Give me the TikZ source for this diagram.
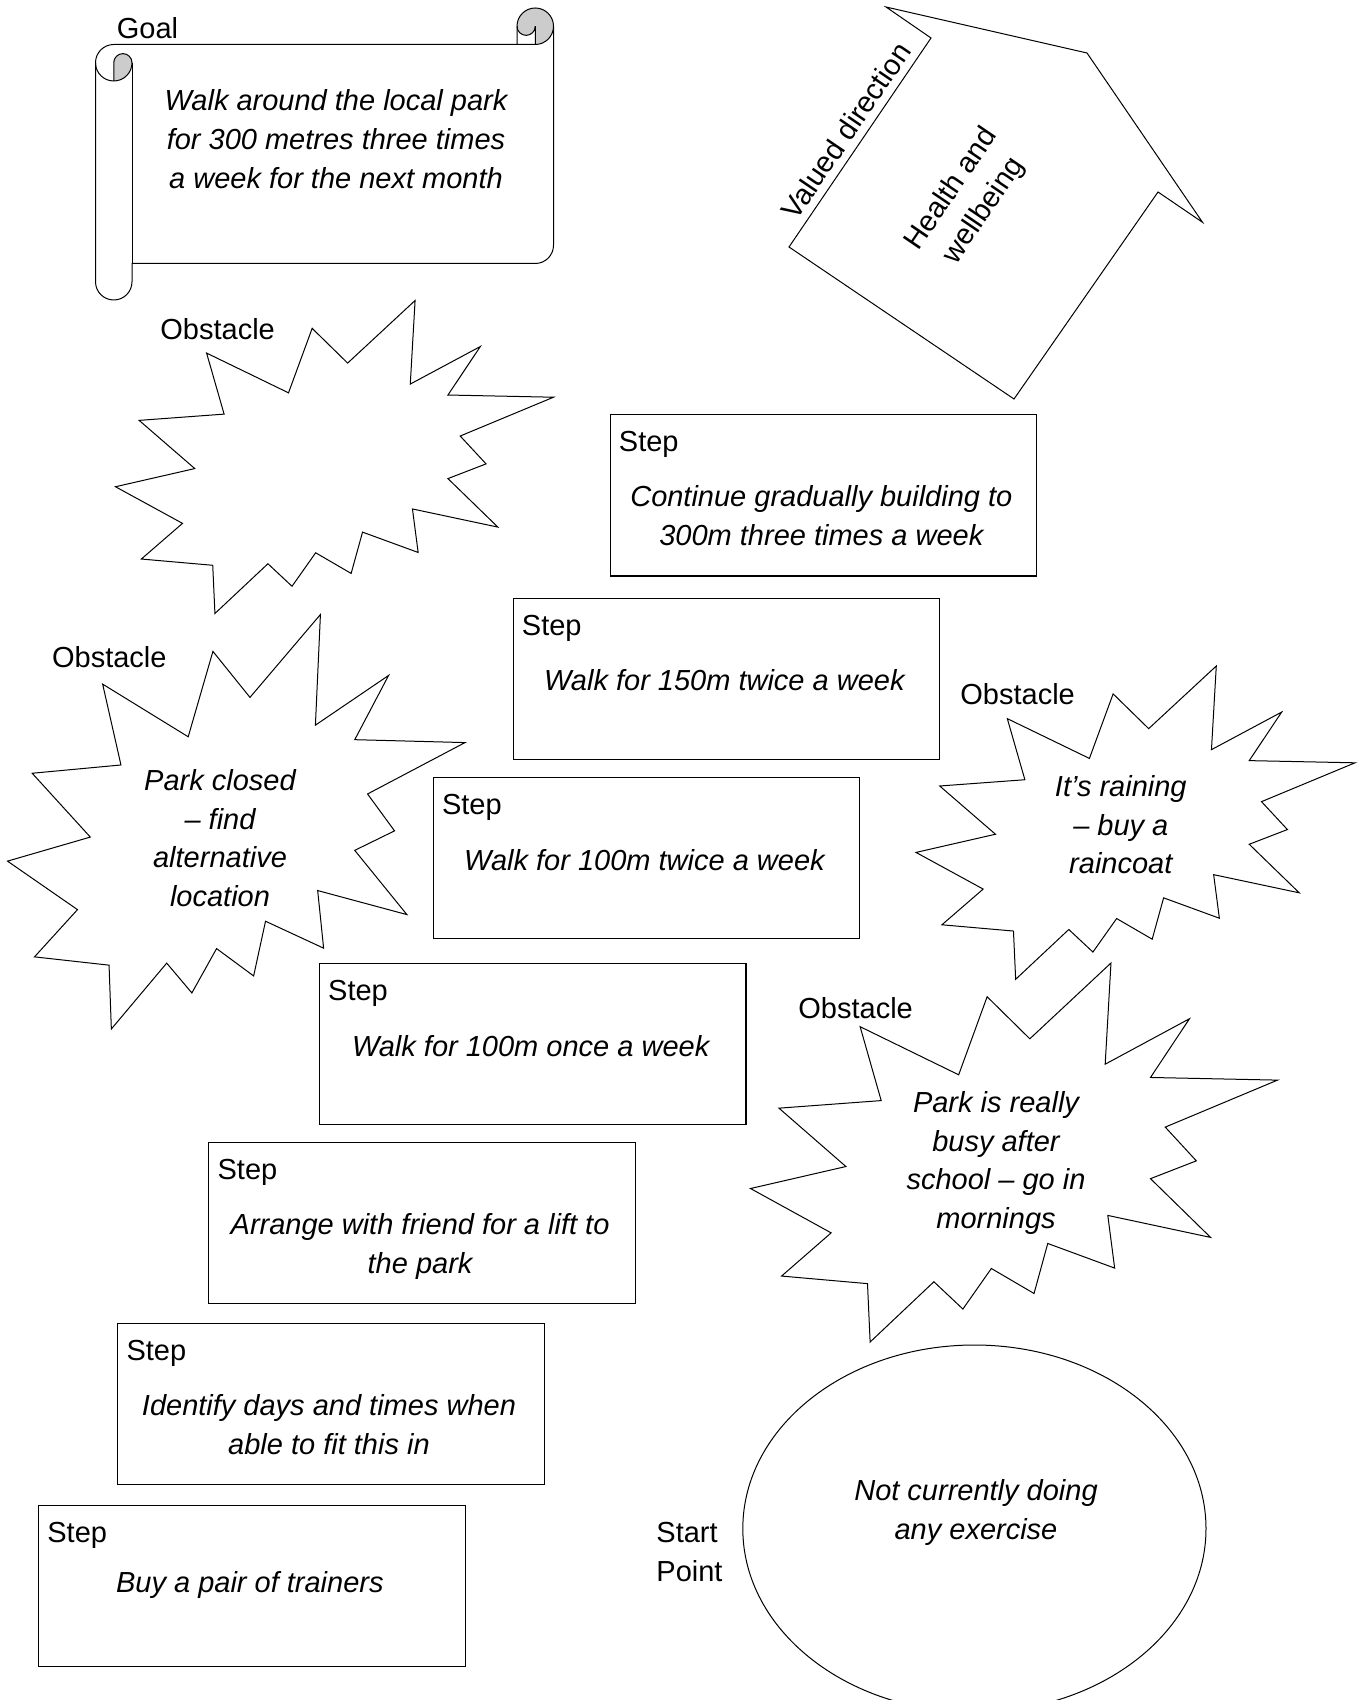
\documentclass[tikz,border=0pt]{standalone}
\usepackage{fontspec}
\setmainfont{Liberation Sans}
\usetikzlibrary{shapes.geometric,calc}
\definecolor{rollgray}{RGB}{204,204,204}
\tikzset{
  lbl/.style={inner sep=0pt, font=\fontsize{14.5pt}{19.3pt}\selectfont},
  body/.style={inner sep=0pt, align=center, font=\fontsize{14.5pt}{19.3pt}\selectfont\itshape},
  stepbox/.style={draw, line width=0.6pt, inner sep=0pt, minimum width=213.25pt, minimum height=80.5pt, anchor=north west},
  outline/.style={draw, line width=0.5pt, line join=miter},
  burst/.pic={
    \draw[outline] (0.208,0.168) -- (0.395,0.295) -- (0.449,0.089) -- (0.530,0.200)
      -- (0.684,0) -- (0.673,0.267) -- (0.833,0.147) -- (0.759,0.302)
      -- (1,0.309) -- (0.787,0.433) -- (0.846,0.522) -- (0.759,0.569)
      -- (0.873,0.724) -- (0.678,0.666) -- (0.691,0.805) -- (0.564,0.740)
      -- (0.538,0.872) -- (0.457,0.806) -- (0.403,0.913) -- (0.348,0.841)
      -- (0.227,1) -- (0.222,0.846) -- (0.059,0.826) -- (0.153,0.712)
      -- (0,0.595) -- (0.181,0.537) -- (0.054,0.383) -- (0.248,0.363) -- cycle;
  }
}
\begin{document}
\begin{tikzpicture}[x=0.5pt,y=-0.5pt]
\useasboundingbox (0,0) rectangle (1360,1700);
\fill[white] (0,0) rectangle (1360,1700);
\clip (0,0) rectangle (1360,1700);

% ---------- Goal scroll ----------
\begin{scope}[shift={(95.5,8)}]
  \fill[rollgray] (18.25,73) arc[start angle=90, delta angle=-90, radius=18.25]
        arc[start angle=0, delta angle=-180, radius=9.125] -- cycle;
  \fill[rollgray] (439.75,36.5) arc[start angle=90, delta angle=-270, radius=18.25]
        arc[start angle=180, delta angle=-180, radius=9.125] -- cycle;
  \draw[outline] (0,54.75) arc[start angle=180, delta angle=90, radius=18.25]
        -- (421.5,36.5) -- (421.5,18.25)
        arc[start angle=180, delta angle=180, radius=18.25]
        -- (458,237.25) arc[start angle=0, delta angle=90, radius=18.25]
        -- (36.5,255.5) -- (36.5,273.75)
        arc[start angle=0, delta angle=180, radius=18.25] -- cycle;
  \draw[outline] (421.5,36.5) -- (439.75,36.5) arc[start angle=90, delta angle=-90, radius=18.25];
  \draw[outline] (439.75,36.5) -- (439.75,18.25) arc[start angle=0, delta angle=180, radius=9.125];
  \draw[outline] (18.25,73) -- (18.25,54.75) arc[start angle=180, delta angle=180, radius=9.125]
        arc[start angle=0, delta angle=180, radius=18.25];
  \draw[outline] (36.5,54.75) -- (36.5,255.5);
\end{scope}
\node[lbl, anchor=base west] (goallbl) at (116.5,38.8) {Goal};
\node[body, anchor=north] (goaltxt) at (336,89.5) {Walk around the local park\\for 300 metres three times\\a week for the next month};

% ---------- Valued direction arrow ----------
\draw[outline] (886,7) -- (1087,53) -- (1202.5,222.3) -- (1158,192) -- (1014,399) -- (789,247) -- (931,38) -- cycle;
\node[lbl, rotate=55.8] (vallbl) at (845.8,130.8) {Valued direction};
\node[lbl, align=center, rotate=55.8] (valtxt) at (968,200) {Health and\\wellbeing};

% ---------- Obstacles ----------
\pic[xscale=438, yscale=313] at (115.5,300.5) {burst};
\node[lbl, anchor=base west] (ob1) at (160,339.3) {Obstacle};

\pic[xscale=457.5, yscale=414.5] at (7.5,614.5) {burst};
\node[lbl, anchor=base west] (ob2) at (51.7,667.3) {Obstacle};
\node[body, anchor=north] (ob2t) at (220,769) {Park closed\\– find\\alternative\\location};

\pic[xscale=439, yscale=313.3] at (916,666) {burst};
\node[lbl, anchor=base west] (ob3) at (960,704) {Obstacle};
\node[body, anchor=north] (ob3t) at (1120.8,775) {It’s raining\\– buy a\\raincoat};

\pic[xscale=527, yscale=379] at (750.5,963) {burst};
\node[lbl, anchor=base west] (ob4) at (798,1018) {Obstacle};
\node[body, anchor=north] (ob4t) at (996,1091) {Park is really\\busy after\\school – go in\\mornings};

% ---------- Steps ----------
\node[stepbox] (s1) at (609.5,414.3) {};
\node[stepbox] (s2) at (512.5,597.5) {};
\node[stepbox] (s3) at (432.6,776.8) {};
\node[stepbox] (s4) at (318.8,963) {};
\node[stepbox] (s5) at (208.2,1142) {};
\node[stepbox] (s6) at (117.1,1323) {};
\node[stepbox] (s7) at (38,1504.5) {};
\foreach \s in {s1,s2,s3,s4,s5,s6,s7}{
  \node[lbl, anchor=base west] (\s h) at ($(\s.north west)+(9,37.5)$) {Step};
}
\node[body, anchor=north] (s1t) at ($(s1.north)+(-2,71)$) {Continue gradually building to\\300m three times a week};
\node[body, anchor=north] (s2t) at ($(s2.north)+(-2,72)$) {Walk for 150m twice a week};
\node[body, anchor=north] (s3t) at ($(s3.north)+(-2,72)$) {Walk for 100m twice a week};
\node[body, anchor=north] (s4t) at ($(s4.north)+(-2,72)$) {Walk for 100m once a week};
\node[body, anchor=north] (s5t) at ($(s5.north)+(-2,71)$) {Arrange with friend for a lift to\\the park};
\node[body, anchor=north] (s6t) at ($(s6.north)+(-2,71)$) {Identify days and times when\\able to fit this in};
\node[body, anchor=north] (s7t) at ($(s7.north)+(-2,67)$) {Buy a pair of trainers};

% ---------- Start point ----------
\node[draw, ellipse, line width=0.5pt, inner sep=0pt, minimum width=231.6pt, minimum height=183.6pt] (start) at (974.4,1528.6) {};
\node[body, anchor=north] (startt) at (976,1479) {Not currently doing\\any exercise};
\node[lbl, align=left, anchor=north west] (startlbl) at (656,1522) {Start\\Point};
\end{tikzpicture}
\end{document}
